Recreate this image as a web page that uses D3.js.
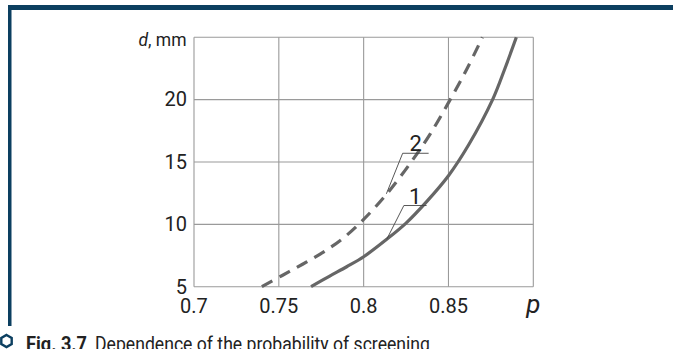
<!DOCTYPE html>
<html>
<head>
<meta charset="utf-8">
<script src="https://cdn.jsdelivr.net/npm/d3@7"></script>
<style>
  html, body { margin: 0; padding: 0; background: #fff; }
  svg { display: block; }
  text { font-family: Roboto, "Liberation Sans", sans-serif; fill: #222; }
</style>
</head>
<body>
<svg id="chart" width="673" height="349"></svg>
<script>
// ---- data ----
const xTicks = [0.7, 0.75, 0.8, 0.85, 0.9];
const xTickLabels = ["0.7", "0.75", "0.8", "0.85", ""];
const yTicks = [5, 10, 15, 20, 25];
const yTickLabels = ["5", "10", "15", "20", ""];

const curve1P = [0.769, 0.780, 0.790, 0.800, 0.8136, 0.825, 0.837, 0.850, 0.862, 0.876, 0.883, 0.890];
const curve1D = [5.0,   5.85,  6.6,   7.4,   8.8,    10.1,  11.8,  13.9,  16.4,  20.0,  22.4,  25.0];

const curve2P = [0.740, 0.752, 0.764, 0.776, 0.788, 0.800, 0.814, 0.828, 0.839, 0.851, 0.861, 0.870];
const curve2D = [5.0,   5.9,   6.8,   7.75,  8.9,   10.4,  12.5,  15.0,  17.2,  20.0,  22.5,  25.0];

// annotation leaders (data units): start on curve, elbow, end of shelf
const labelTexts = ["1", "2"];
const labelStartP = [0.8136, 0.8134];
const labelStartD = [8.8, 12.45];
const labelElbowP = [0.8237, 0.8230];
const labelElbowD = [11.51, 15.70];
const labelEndP   = [0.8371, 0.8383];

const xTitle = "p";
const yTitle = "d, mm";
const captionBold = "Fig. 3.7";
const captionText = "Dependence of the probability of screening";

// ---- drawing ----
const svg = d3.select("#chart");
const frameColor = "#0c3f60";

// frame
svg.append("rect").attr("x", 8).attr("y", 5).attr("width", 665).attr("height", 5).attr("fill", frameColor);
svg.append("rect").attr("x", 8).attr("y", 5).attr("width", 3.5).attr("height", 321).attr("fill", frameColor);

const x = d3.scaleLinear().domain([0.7, 0.9]).range([194, 533.3]);
const y = d3.scaleLinear().domain([5, 25]).range([286.7, 37.3]);

const grid = svg.append("g");
grid.selectAll("line.v").data(xTicks).join("line")
  .attr("x1", d => x(d)).attr("x2", d => x(d))
  .attr("y1", y(5)).attr("y2", y(25))
  .attr("stroke", "#9a9a9a").attr("stroke-width", 1.1);
grid.selectAll("line.h").data(yTicks).join("line")
  .attr("y1", d => y(d)).attr("y2", d => y(d))
  .attr("x1", x(0.7)).attr("x2", x(0.9))
  .attr("stroke", "#9a9a9a").attr("stroke-width", 1.1);

// tick labels
svg.append("g").selectAll("text").data(xTicks).join("text")
  .attr("x", d => x(d)).attr("y", 312.7)
  .attr("text-anchor", "middle").attr("font-size", 20)
  .text((d, i) => xTickLabels[i]);
svg.append("g").selectAll("text").data(yTicks).join("text")
  .attr("x", x(0.7) - 7).attr("y", d => y(d)).attr("dy", "0.34em")
  .attr("text-anchor", "end").attr("font-size", 20)
  .text((d, i) => yTickLabels[i]);

// axis titles
svg.append("text").attr("x", x(0.9)).attr("y", 312.5)
  .attr("text-anchor", "middle").attr("font-size", 26).attr("font-style", "italic")
  .text(xTitle);
const yt = svg.append("text").attr("x", x(0.7) - 7.5).attr("y", 46)
  .attr("text-anchor", "end").attr("font-size", 17.5);
yt.append("tspan").attr("font-style", "italic").text(yTitle.slice(0, 1));
yt.append("tspan").text(yTitle.slice(1));

// curves
const line = d3.line().x(d => x(d[0])).y(d => y(d[1])).curve(d3.curveCatmullRom.alpha(0.5));
const c1 = curve1P.map((p, i) => [p, curve1D[i]]);
const c2 = curve2P.map((p, i) => [p, curve2D[i]]);
svg.append("path").attr("d", line(c1)).attr("fill", "none")
  .attr("stroke", "#666").attr("stroke-width", 3.2);
svg.append("path").attr("d", line(c2)).attr("fill", "none")
  .attr("stroke", "#666").attr("stroke-width", 3.2)
  .attr("stroke-dasharray", "12,8");

// annotations
labelTexts.forEach((t, i) => {
  const pts = [
    [x(labelStartP[i]), y(labelStartD[i])],
    [x(labelElbowP[i]), y(labelElbowD[i])],
    [x(labelEndP[i]), y(labelElbowD[i])]
  ];
  svg.append("path").attr("d", d3.line()(pts)).attr("fill", "none")
    .attr("stroke", "#444").attr("stroke-width", 0.9);
  svg.append("text")
    .attr("x", (x(labelElbowP[i]) + x(labelEndP[i])) / 2)
    .attr("y", y(labelElbowD[i]) - 2)
    .attr("text-anchor", "middle").attr("font-size", 22)
    .text(t);
});

// caption
const hx = 6.5, hy = 341, hr = 6;
const hex = d3.range(6).map(k => {
  const a = Math.PI / 3 * k - Math.PI / 2;
  return [hx + hr * Math.cos(a), hy + hr * Math.sin(a)];
});
svg.append("path").attr("d", d3.line()(hex) + "Z").attr("fill", "none")
  .attr("stroke", frameColor).attr("stroke-width", 2.4);
svg.append("text").attr("x", 26).attr("y", 350.5).attr("font-size", 21)
  .attr("font-weight", "bold").attr("fill", "#1b2630")
  .attr("textLength", 61).attr("lengthAdjust", "spacingAndGlyphs")
  .text(captionBold);
svg.append("text").attr("x", 95).attr("y", 350.5).attr("font-size", 21)
  .attr("textLength", 335).attr("lengthAdjust", "spacingAndGlyphs")
  .text(captionText);
</script>
</body>
</html>
